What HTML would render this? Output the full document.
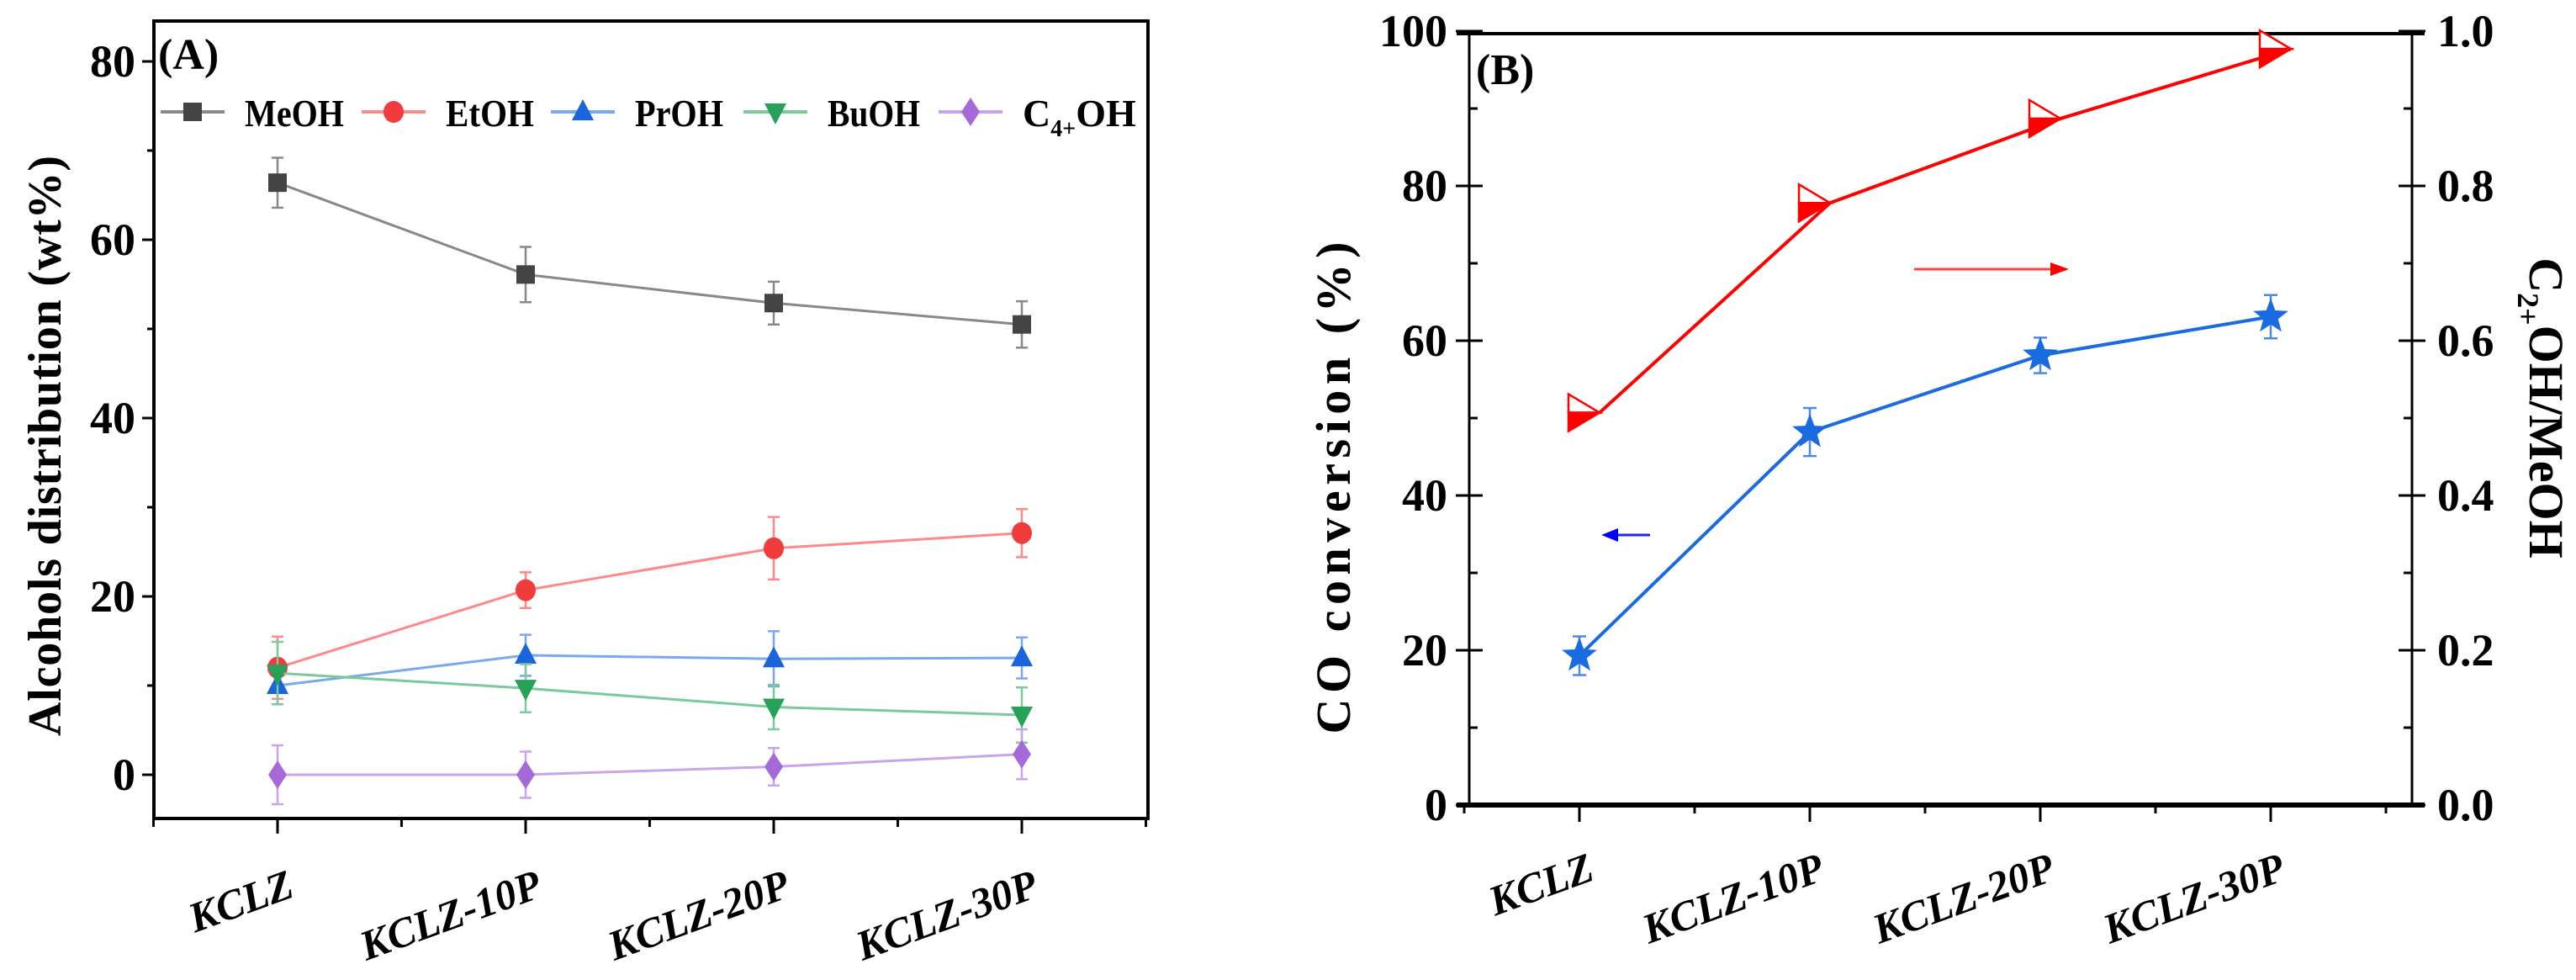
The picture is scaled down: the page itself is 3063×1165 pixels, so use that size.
<!DOCTYPE html>
<html><head><meta charset="utf-8"><style>
html,body{margin:0;padding:0;background:#fff;}
svg{display:block;}
text,tspan{font-family:"Liberation Serif","Times New Roman",Times,"Noto Serif CJK SC",serif;font-weight:bold;}
</style></head><body>
<svg id="c" width="3063" height="1165" viewBox="0 0 3063 1165" xmlns="http://www.w3.org/2000/svg">
<g id="pa"></g>
<g id="pb"></g>
</svg>
<script>
const categories = ["KCLZ","KCLZ-10P","KCLZ-20P","KCLZ-30P"];
const meoh = [66.4, 56.1, 52.9, 50.5];
const meohErr = [2.8, 3.1, 2.4, 2.6];
const etoh = [12.0, 20.7, 25.4, 27.1];
const etohErr = [3.5, 2.0, 3.5, 2.7];
const proh = [10.0, 13.4, 13.0, 13.1];
const prohErr = [2.1, 2.3, 3.1, 2.3];
const buoh = [11.4, 9.7, 7.6, 6.7];
const buohErr = [3.5, 2.7, 2.5, 3.1];
const c4oh = [0.0, 0.0, 0.9, 2.3];
const c4ohErr = [3.3, 2.6, 2.1, 2.8];
const ticksA = [0, 20, 40, 60, 80];
const coConv = [19.3, 48.2, 58.1, 63.1];
const coErr = [2.5, 3.1, 2.3, 2.8];
const ratio = [0.507, 0.778, 0.887, 0.977];
const ticksBL = [0, 20, 40, 60, 80, 100];
const ticksBR = ["0.0","0.2","0.4","0.6","0.8","1.0"];

const NS = "http://www.w3.org/2000/svg";
function mk(p, tag, at, txt){const e=document.createElementNS(NS,tag);for(const k in at)e.setAttribute(k,at[k]);if(txt!==undefined)e.textContent=txt;p.appendChild(e);return e;}

// ---------- Panel A ----------
const A = document.getElementById('pa');
const aL=183,aR=1365,aT=25,aB=973;
const xA = i => 330 + i*295;
const yA = v => 921 - v*(212/20);
let e;
e=mk(A,'rect',{x:aL,y:aT,width:aR-aL,height:aB-aT,fill:'none',stroke:'#000','stroke-width':4});


ticksA.forEach(t=>{
  e=mk(A,'line',{x1:aL-14,x2:aL,y1:yA(t),y2:yA(t),stroke:'#000','stroke-width':3});
  
  
  e=mk(A,'text',{x:aL-22,y:yA(t)+18,'text-anchor':'end','font-size':54},String(t));
  
  
  if(t<80){
    e=mk(A,'line',{x1:aL-8,x2:aL,y1:yA(t+10),y2:yA(t+10),stroke:'#000','stroke-width':3});
    
    
  }
});
for(let i=-0.5;i<=3.5;i+=0.5){
  const major=Number.isInteger(i);
  e=mk(A,'line',{x1:xA(i),x2:xA(i),y1:aB,y2:aB+(major?18:10),stroke:'#000','stroke-width':3});
  
  
}
categories.forEach((c,i)=>{
  e=mk(A,'text',{x:xA(i)+22,y:1065,'text-anchor':'end','font-size':50,'font-style':'italic',transform:`rotate(-20 ${xA(i)+22} 1065)`},c);
  
  
});
e=mk(A,'text',{x:0,y:0,'text-anchor':'middle','font-size':56,textLength:690,lengthAdjust:'spacing',transform:'translate(72 530) rotate(-90)'},'Alcohols distribution (wt%)');


e=mk(A,'text',{x:188,y:82,'font-size':52},'(A)');



function marker(g,shape,cx,cy,col){
  let m;
  if(shape==='sq') m=mk(g,'rect',{x:cx-11,y:cy-11,width:22,height:22,fill:col});
  else if(shape==='ci') m=mk(g,'ellipse',{cx,cy,rx:12,ry:13,fill:col});
  else if(shape==='up') m=mk(g,'polygon',{points:`${cx},${cy-15} ${cx+13},${cy+10} ${cx-13},${cy+10}`,fill:col});
  else if(shape==='dn') m=mk(g,'polygon',{points:`${cx},${cy+15} ${cx+13},${cy-10} ${cx-13},${cy-10}`,fill:col});
  else m=mk(g,'polygon',{points:`${cx},${cy-17} ${cx+11},${cy} ${cx},${cy+17} ${cx-11},${cy}`,fill:col});
  return m;
}
const seriesA=[
 {n:'meoh',v:meoh,er:meohErr,c:'#444',lc:'#888',s:'sq'},
 {n:'etoh',v:etoh,er:etohErr,c:'#f03c3c',lc:'#f88',s:'ci'},
 {n:'proh',v:proh,er:prohErr,c:'#1a64dc',lc:'#7aa8ee',s:'up'},
 {n:'buoh',v:buoh,er:buohErr,c:'#27a05a',lc:'#7cc99a',s:'dn'},
 {n:'c4oh',v:c4oh,er:c4ohErr,c:'#a66ad8',lc:'#c9a4ec',s:'di'}];
seriesA.forEach(s=>{
  const g=mk(A,'g',{});
  
  
  e=mk(g,'polyline',{points:s.v.map((v,i)=>xA(i)+','+yA(v)).join(' '),fill:'none',stroke:s.lc,'stroke-width':3});
  
  
  s.v.forEach((v,i)=>{
    const x=xA(i),y1=yA(v+s.er[i]),y2=yA(v-s.er[i]);
    e=mk(g,'path',{d:`M${x},${y1}V${y2}M${x-7},${y1}H${x+7}M${x-7},${y2}H${x+7}`,stroke:s.lc,'stroke-width':2.5,fill:'none'});
    
    
    e=marker(g,s.s,x,yA(v),s.c);
    
    
  });
});
const legX=[229,468,693,922,1154], legLab=['MeOH','EtOH','PrOH','BuOH','C'], legW=[118,105,105,110,0];
seriesA.forEach((s,i)=>{
  const g=mk(A,'g',{});
  
  
  mk(g,'line',{x1:legX[i]-38,x2:legX[i]+38,y1:133,y2:133,stroke:s.lc,'stroke-width':4});
  marker(g,s.s,legX[i],133,s.c);
  const at={x:legX[i]+62,y:150,'font-size':46};
  if(legW[i]){at.textLength=legW[i];at.lengthAdjust='spacingAndGlyphs';}
  const t=mk(g,'text',at,legLab[i]);
  if(i===4){mk(t,'tspan',{'font-size':28,dy:12},'4+');mk(t,'tspan',{'font-size':46,dy:-12},'OH');}
});

// ---------- Panel B ----------
const B=document.getElementById('pb');
const bL=1747,bR=2868,bT=40,bB=957;
const xB=i=>1878+i*274;
const yB=v=>957 - v*(184/20);
const yR=r=>yB(r*100);
e=mk(B,'rect',{x:bL,y:bT,width:bR-bL,height:bB-bT,fill:'none',stroke:'#000','stroke-width':3});


mk(B,'line',{x1:bL-15,x2:bR+15,y1:bB,y2:bB,stroke:'#000','stroke-width':6});
mk(B,'line',{x1:bL-15,x2:bR+15,y1:bT,y2:bT,stroke:'#000','stroke-width':4});
ticksBL.forEach((t,k)=>{
  e=mk(B,'line',{x1:bL-16,x2:bL+16,y1:yB(t),y2:yB(t),stroke:'#000','stroke-width':3});
  
  
  e=mk(B,'text',{x:bL-26,y:yB(t)+18,'text-anchor':'end','font-size':54},String(t));
  
  
  e=mk(B,'line',{x1:bR-16,x2:bR+16,y1:yB(t),y2:yB(t),stroke:'#000','stroke-width':3});
  
  
  e=mk(B,'text',{x:bR+30,y:yB(t)+18,'font-size':54},ticksBR[k]);
  
  
  if(t<100){
    mk(B,'line',{x1:bL,x2:bL+10,y1:yB(t+10),y2:yB(t+10),stroke:'#000','stroke-width':3});
    mk(B,'line',{x1:bR-10,x2:bR,y1:yB(t+10),y2:yB(t+10),stroke:'#000','stroke-width':3});
  }
});
for(let i=-0.5;i<=3.5;i+=0.5){
  const major=Number.isInteger(i);
  e=mk(B,'line',{x1:xB(i),x2:xB(i),y1:bB,y2:bB+(major?20:10),stroke:'#000','stroke-width':3});
  
  
}
categories.forEach((c,i)=>{
  e=mk(B,'text',{x:xB(i)+20,y:1045,'text-anchor':'end','font-size':50,'font-style':'italic',transform:`rotate(-20 ${xB(i)+20} 1045)`},c);
  
  
});
e=mk(B,'text',{x:0,y:0,'text-anchor':'middle','font-size':58,textLength:585,lengthAdjust:'spacing',transform:'translate(1605 580) rotate(-90)'},'CO conversion (%)');


e=mk(B,'text',{x:0,y:0,'text-anchor':'middle','font-size':58,transform:'translate(3008 485) rotate(90)'});
mk(e,'tspan',{},'C');mk(e,'tspan',{'font-size':36,dy:14},'2+');mk(e,'tspan',{dy:-14},'OH/MeOH');


e=mk(B,'text',{x:1755,y:100,'font-size':52},'(B)');



// red ratio series
const gr=mk(B,'g',{});


e=mk(gr,'polyline',{points:ratio.map((r,i)=>(xB(i)+24)+','+yR(r)).join(' '),fill:'none',stroke:'#f00','stroke-width':4});


ratio.forEach((r,i)=>{
  const cx=xB(i),cy=yR(r);
  const g=mk(gr,'g',{});
  
  
  mk(g,'polygon',{points:`${cx-13},${cy-22} ${cx+24},${cy} ${cx-13},${cy}`,fill:'#fff',stroke:'#f00','stroke-width':2.5});
  mk(g,'polygon',{points:`${cx-13},${cy} ${cx+24},${cy} ${cx-13},${cy+22}`,fill:'#f00',stroke:'#f00','stroke-width':2.5});
});
// blue CO conversion
const gb=mk(B,'g',{});


e=mk(gb,'polyline',{points:coConv.map((v,i)=>xB(i)+','+yB(v)).join(' '),fill:'none',stroke:'#1a6ae0','stroke-width':4});


function star(cx,cy,R){let p=[];for(let k=0;k<10;k++){const r=k%2?R*0.42:R;const a=-Math.PI/2+k*Math.PI/5;p.push((cx+r*Math.cos(a)).toFixed(1)+','+(cy+r*Math.sin(a)).toFixed(1));}return p.join(' ');}
coConv.forEach((v,i)=>{
  const x=xB(i),y1=yB(v+coErr[i]),y2=yB(v-coErr[i]);
  e=mk(gb,'path',{d:`M${x},${y1}V${y2}M${x-8},${y1}H${x+8}M${x-8},${y2}H${x+8}`,stroke:'#4a8ae8','stroke-width':2.5,fill:'none'});
  
  
  e=mk(gb,'polygon',{points:star(x,yB(v),22),fill:'#1a6ae0'});
  
  
});
// arrows
e=mk(B,'g',{});


mk(e,'line',{x1:2276,x2:2440,y1:320,y2:320,stroke:'#f44','stroke-width':3});
mk(e,'polygon',{points:'2438,312 2460,320 2438,328',fill:'#f00'});
e=mk(B,'g',{});


mk(e,'line',{x1:1922,x2:1962,y1:636,y2:636,stroke:'#22f','stroke-width':3});
mk(e,'polygon',{points:'1924,628 1904,636 1924,644',fill:'#00f'});
</script>
</body></html>
